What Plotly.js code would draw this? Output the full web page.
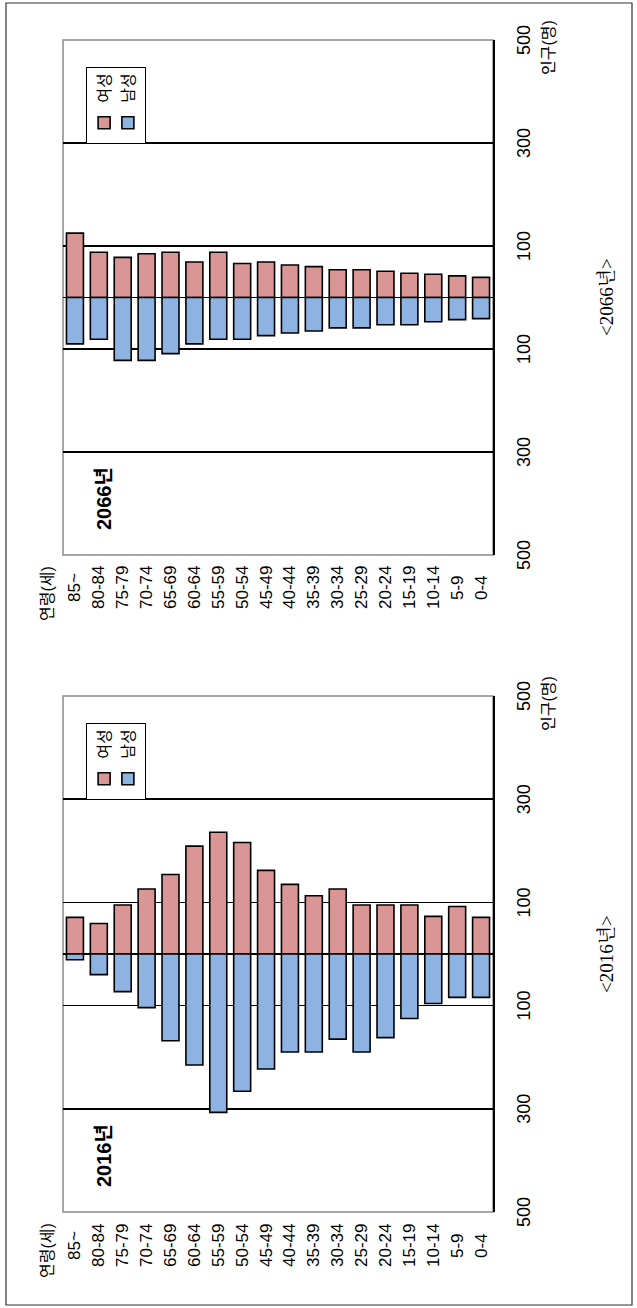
<!DOCTYPE html>
<html>
<head>
<meta charset="utf-8">
<script src="https://cdn.plot.ly/plotly-3.0.1.min.js"></script>
<style>
html, body { margin:0; padding:0; overflow:hidden; background:#fff; width:637px; height:1308px; }
#wrap { position:absolute; left:0; top:0; width:1308px; height:637px; transform-origin:0 0; transform: translateY(1308px) rotate(-90deg); }
#chart { width:1308px; height:637px; }
</style>
</head>
<body>
<div id="wrap"><div id="chart"></div></div>
<script>
// ---- data ----
const ages = ['85~','80-84','75-79','70-74','65-69','60-64','55-59','50-54','45-49','40-44','35-39','30-34','25-29','20-24','15-19','10-14','5-9','0-4'];
const female2016 = [71,59,95,126,154,209,236,216,162,135,113,126,95,95,95,73,92,71];
const male2016   = [11,40,73,104,168,215,307,266,223,190,190,165,190,162,125,96,84,84];
const female2066 = [125,88,78,85,88,69,88,66,69,63,60,54,54,51,47,45,42,39];
const male2066   = [90,81,122,122,109,90,81,81,74,69,65,59,59,53,53,47,43,41];
const tickValues = [-500,-300,-100,100,300,500];
const tickLabels = ['500','300','100','100','300','500'];
const gridValues = [-300,-100,100,300];
const seriesNames = ['여성','남성'];
const panelTitles = ['2016년','2066년'];
const captions = ['<2016년>','<2066년>'];
const ageTitle = '연령(세)';
const popTitle = '인구(명)';

// ---- style ----
const W = 1308, H = 637;
const NARROW = '"Liberation Sans Narrow", "Arial Narrow", "Liberation Sans", "Noto Sans CJK KR", sans-serif';
const SERIF = '"Liberation Serif", "Noto Serif CJK KR", "Noto Sans CJK KR", serif';
const PINK = '#D99694', BLUE = '#8DB3E2';

function mkTraces(fem, mal, xa, ya, lg) {
  return [
    {type:'bar', orientation:'h', name:seriesNames[0], x:fem, y:ages, xaxis:xa, yaxis:ya, legend:lg,
     marker:{color:PINK, line:{color:'#000', width:1.6}}, hoverinfo:'skip'},
    {type:'bar', orientation:'h', name:seriesNames[1], x:mal.map(v=>-v), y:ages, xaxis:xa, yaxis:ya, legend:lg,
     marker:{color:BLUE, line:{color:'#000', width:1.6}}, hoverinfo:'skip'}
  ];
}
const data = [].concat(mkTraces(female2016, male2016, 'x', 'y', 'legend'),
                       mkTraces(female2066, male2066, 'x2', 'y2', 'legend2'));

function xAx(dom, anchor) {
  return {domain:dom, anchor:anchor, range:[-500,500], tickmode:'array', tickvals:tickValues, ticktext:tickLabels,
    showgrid:false, zeroline:true, zerolinecolor:'#000', zerolinewidth:1.5,
    minor:{tickmode:'array', tickvals:gridValues, showgrid:true, gridcolor:'#000', gridwidth:1.5, ticks:''},
    showline:true, linecolor:'#000', linewidth:1.8, ticks:'', ticklabelstandoff:14,
    tickfont:{family:NARROW, size:18, color:'#000'}, fixedrange:true};
}
function yAx(anchor) {
  return {domain:[1-493/H, 1-63/H], anchor:anchor, type:'category', categoryorder:'array', categoryarray:ages,
    range:[17.5,-0.5], showticklabels:false, showgrid:false, zeroline:false, showline:false, ticks:'', fixedrange:true};
}

const annotations = [];
const shapes = [];
[['x','y'],['x2','y2']].forEach(([xa,ya], p) => {
  const xd = xa + ' domain', yd = ya + ' domain';
  ages.forEach(a => annotations.push({xref:xd, yref:ya, x:-0.064, y:a, text:a, showarrow:false,
     xanchor:'center', yanchor:'middle', font:{family:NARROW, size:17, color:'#000'}}));
  annotations.push({xref:xd, yref:yd, x:-0.074, y:1.037, text:ageTitle, showarrow:false,
     xanchor:'center', yanchor:'middle', font:{family:NARROW, size:16, color:'#000'}});
  annotations.push({xref:xd, yref:yd, x:0.986, y:-0.128, text:popTitle, showarrow:false,
     xanchor:'center', yanchor:'middle', font:{family:NARROW, size:16, color:'#000'}});
  annotations.push({xref:xd, yref:yd, x:0.11, y:0.905, text:'<b>'+panelTitles[p]+'</b>', showarrow:false,
     xanchor:'center', yanchor:'middle', font:{family:NARROW, size:20, color:'#000'}});
  annotations.push({xref:xd, yref:yd, x:0.5, y:-0.263, text:captions[p].replace('<','&lt;').replace('>','&gt;'), showarrow:false,
     xanchor:'center', yanchor:'middle', font:{family:SERIF, size:19, color:'#000'}});
  shapes.push({type:'rect', xref:xd, yref:yd, x0:0, x1:1, y0:0, y1:1, layer:'below',
     line:{color:'#8a8a8a', width:1.5}});
});
shapes.push({type:'rect', xref:'paper', yref:'paper', x0:3/W, x1:1305/W, y0:1-632/H, y1:1-6/H,
   line:{color:'#333', width:1.2}});

const legendStyle = (x) => ({x:x, y:1-86/H, xanchor:'left', yanchor:'top', xref:'paper', yref:'paper',
  bordercolor:'#000', borderwidth:1.2, bgcolor:'#fff', traceorder:'normal', tracegroupgap:4,
  font:{family:NARROW, size:16, color:'#000'}, itemclick:false, itemdoubleclick:false});

const layout = {
  width:W, height:H, margin:{l:0, r:0, t:0, b:0}, paper_bgcolor:'#fff', plot_bgcolor:'#fff',
  barmode:'relative', bargap:0.29, showlegend:true,
  xaxis: xAx([96/W, 612/W], 'y'), yaxis: yAx('x'),
  xaxis2: xAx([753/W, 1268/W], 'y2'), yaxis2: yAx('x2'),
  legend: legendStyle(508/W), legend2: legendStyle(1164/W),
  annotations: annotations, shapes: shapes
};
Plotly.newPlot('chart', data, layout, {displayModeBar:false, staticPlot:true});
</script>
</body>
</html>
